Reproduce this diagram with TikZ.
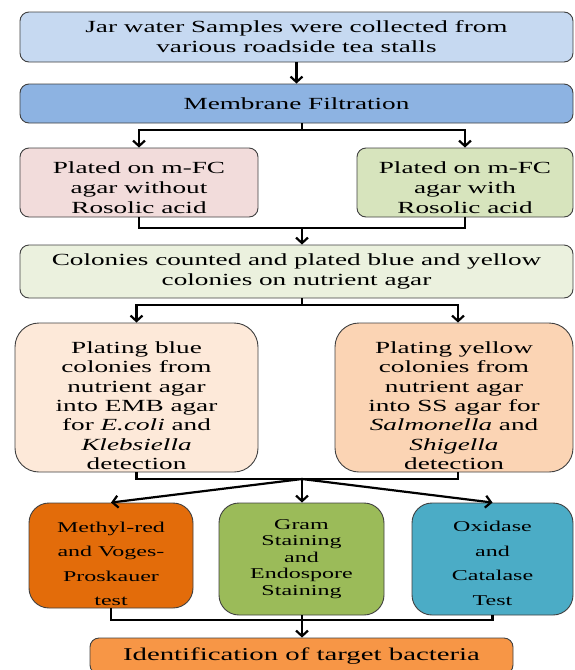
\documentclass[tikz,border=0pt]{standalone}
\usepackage{fontspec}
\setmainfont[FakeStretch=1.6]{Liberation Serif}
\usetikzlibrary{arrows.meta}
\definecolor{jarblue}{HTML}{C6D9F1}
\definecolor{filtblue}{HTML}{8DB3E2}
\definecolor{noroscol}{HTML}{F2DCDB}
\definecolor{roscol}{HTML}{D7E4BD}
\definecolor{colgreen}{HTML}{EBF1DE}
\definecolor{bluepeach}{HTML}{FDE9D9}
\definecolor{yelpeach}{HTML}{FBD4B4}
\definecolor{mrorange}{HTML}{E36C0A}
\definecolor{gramgreen}{HTML}{9BBB59}
\definecolor{oxiblue}{HTML}{4BACC6}
\definecolor{identorange}{HTML}{F79646}
\newcommand\lowertext[1]{\rule{0pt}{#1}}
\begin{document}
\begin{tikzpicture}[x=1pt,y=-1pt,
	box/.style={draw=black!75,line width=0.9pt,rounded corners=9pt,align=center,inner sep=0pt,text=black,font=\fontsize{17}{20}\selectfont},
	bigbox/.style={box,rounded corners=24pt,font=\fontsize{17}{19.3}\selectfont},
	testbox/.style={box,rounded corners=20pt,minimum height=105,font=\fontsize{15}{24.5}\selectfont},
	link/.style={line width=2.2pt},
	arr/.style={line width=2.2pt,-{Straight Barb[length=5.5pt,width=12pt]}}]
	\useasboundingbox (0,0) rectangle (574,670);
	\clip (0,0) rectangle (574,670);
	% boxes
	\node[box,fill=jarblue,minimum width=553,minimum height=50] (jar) at (296.5,37) {Jar water Samples were collected from\\various roadside tea stalls};
	\node[box,fill=filtblue,minimum width=553,minimum height=39] (filt) at (296.5,103.5) {Membrane Filtration};
	\node[box,fill=noroscol,minimum width=238,minimum height=69] (noros) at (139,182.5) {\lowertext{22pt}Plated on m-FC\\agar without\\Rosolic acid};
	\node[box,fill=roscol,minimum width=216,minimum height=69] (ros) at (465,182.5) {\lowertext{22pt}Plated on m-FC\\agar with\\Rosolic acid};
	\node[box,fill=colgreen,minimum width=553,minimum height=53] (count) at (296.5,271.5) {Colonies counted and plated blue and yellow\\colonies on nutrient agar};
	\node[bigbox,fill=bluepeach,minimum width=243,minimum height=149] (bluecol) at (136.5,397.5) {\lowertext{28pt}Plating blue\\colonies from\\nutrient agar\\into EMB agar\\for \textit{E.coli} and\\\textit{Klebsiella}\\detection};
	\node[bigbox,fill=yelpeach,minimum width=238,minimum height=149] (yelcol) at (454,397.5) {\lowertext{28pt}Plating yellow\\colonies from\\nutrient agar\\into SS agar for\\\textit{Salmonella} and\\\textit{Shigella}\\detection};
	\node[testbox,fill=mrorange,minimum width=164] (mrvp) at (111,555.5) {\lowertext{27pt}Methyl-red\\and Voges-\\Proskauer\\test};
	\node[testbox,fill=gramgreen,minimum width=165,minimum height=112,font=\fontsize{15}{16.5}\selectfont] (gram) at (301.5,559) {Gram\\Staining\\and\\Endospore\\Staining};
	\node[testbox,fill=oxiblue,minimum width=161,minimum height=112] (oxi) at (492.5,559) {\lowertext{19pt}Oxidase\\and\\Catalase\\Test};
	\node[box,fill=identorange,minimum width=423,minimum height=36,font=\fontsize{18}{22}\selectfont] (ident) at (301.5,656) {Identification of target bacteria};
	% connectors
	\coordinate (s1) at (302,130);
	\coordinate (m1) at (302,228);
	\coordinate (s2) at (302,305);
	\coordinate (m2) at (302,479);
	\coordinate (m3) at (302,620);
	\draw[arr] (jar) -- (filt);
	\draw[link] (filt.south -| s1) -- (s1);
	\draw[arr] (s1) -| (noros.north);
	\draw[arr] (s1) -| (ros.north);
	\draw[link] (noros.south) |- (m1) -| (ros.south);
	\draw[arr] (m1) -- (count.north -| m1);
	\draw[link] (count.south -| s2) -- (s2);
	\draw[arr] (s2) -| (bluecol.north);
	\draw[arr] (s2) -| ([xshift=4pt]yelcol.north);
	\draw[link] (bluecol.south) |- (m2) -| ([xshift=4pt]yelcol.south);
	\draw[arr] (m2) -- (mrvp.north);
	\draw[arr] (m2) -- (gram.north -| m2);
	\draw[arr] (m2) -- (oxi.north);
	\draw[link] (mrvp.south) |- (m3) -| (oxi.south);
	\draw[arr] (gram.south -| m3) -- (ident.north -| m3);
\end{tikzpicture}
\end{document}
